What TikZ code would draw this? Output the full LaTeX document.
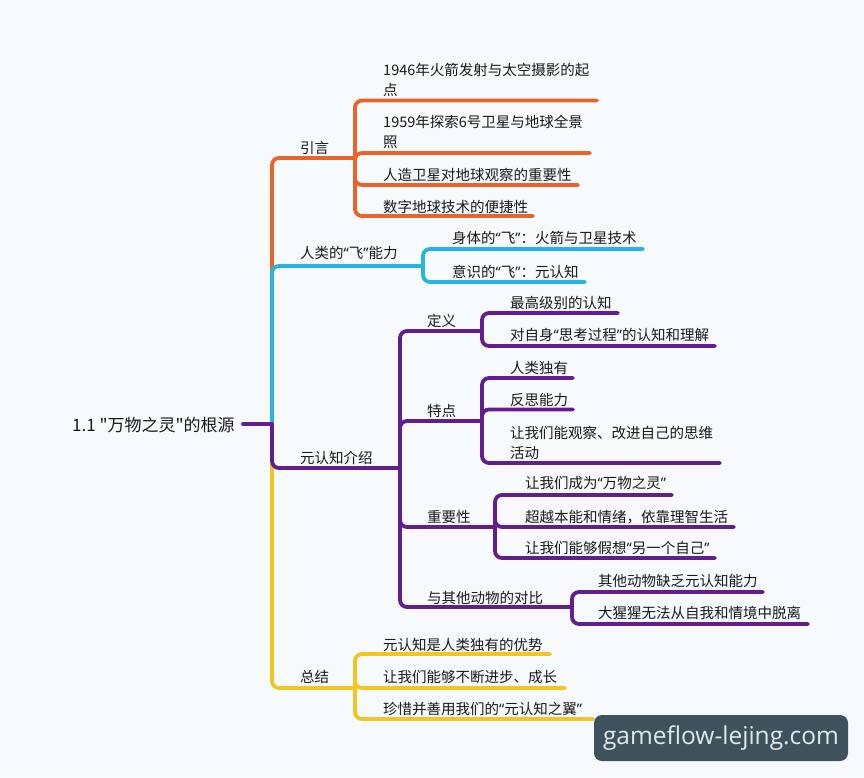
\documentclass[tikz,border=0pt]{standalone}
\usepackage{fontspec}
\setmainfont{Noto Sans CJK SC}[Ligatures=TeXOff]
\newfontfamily\wmfont{Open Sans}
\newfontfamily\qfont{Noto Sans}
\newcommand\qo{{\qfont “}}
\newcommand\qc{{\qfont ”}}
\definecolor{orangeC}{RGB}{233,100,40}
\definecolor{blueC}{RGB}{38,180,226}
\definecolor{purpleC}{RGB}{100,28,145}
\definecolor{yellowC}{RGB}{243,197,30}
\definecolor{textC}{RGB}{25,25,25}
\definecolor{bgC}{RGB}{246,250,252}
\definecolor{wmC}{RGB}{61,82,92}
\definecolor{wmtextC}{RGB}{228,232,234}
\begin{document}
\begin{tikzpicture}[x=1pt,y=-1pt,
  txt/.style={anchor=base west, inner sep=0pt, text=textC, font=\fontsize{14.5}{20}\selectfont, align=left},
  rootstyle/.style={anchor=base west, inner sep=0pt, text=textC, font=\fontsize{17}{20}\selectfont},
  ln/.style={line width=3.8pt, line cap=round, rounded corners=7pt},
  wm/.style={fill=wmC, text=wmtextC, rounded corners=8pt, minimum width=254pt, minimum height=46pt, inner sep=0pt, font=\wmfont\fontsize{24.5}{28}\selectfont}
]
\fill[bgC] (0,0) rectangle (864,777);
\useasboundingbox (0,0) rectangle (864,777);

% ---- text nodes (multi-line nodes: base = last line)
\node[rootstyle] (root) at (72,431) {1.1 "万物之灵"的根源};
\node[txt] (yy) at (300,153.5) {引言};
\node[txt] (yy1) at (383,95.5) {1946年火箭发射与太空摄影的起\\点};
\node[txt] (yy2) at (383,147.5) {1959年探索6号卫星与地球全景\\照};
\node[txt] (yy3) at (383,180.5) {人造卫星对地球观察的重要性};
\node[txt] (yy4) at (383,212.5) {数字地球技术的便捷性};
\node[txt] (fly) at (300,258.5) {人类的\qo 飞\qc 能力};
\node[txt] (fly1) at (452,243.5) {身体的\qo 飞\qc ：火箭与卫星技术};
\node[txt] (fly2) at (452,277.5) {意识的\qo 飞\qc ：元认知};
\node[txt] (mc) at (300,463.5) {元认知介绍};
\node[txt] (def) at (427,326.5) {定义};
\node[txt] (def1) at (510,308.5) {最高级别的认知};
\node[txt] (def2) at (510,340.5) {对自身\qo 思考过程\qc 的认知和理解};
\node[txt] (fea) at (427,416.5) {特点};
\node[txt] (fea1) at (510,373.5) {人类独有};
\node[txt] (fea2) at (510,405.5) {反思能力};
\node[txt] (fea3) at (510,458.5) {让我们能观察、改进自己的思维\\活动};
\node[txt] (imp) at (427,522.5) {重要性};
\node[txt] (imp1) at (525,488.5) {让我们成为\qo 万物之灵\qc};
\node[txt] (imp2) at (525,522.5) {超越本能和情绪，依靠理智生活};
\node[txt] (imp3) at (525,553.5) {让我们能够假想\qo 另一个自己\qc};
\node[txt] (cmp) at (427,603.5) {与其他动物的对比};
\node[txt] (cmp1) at (598,586.5) {其他动物缺乏元认知能力};
\node[txt] (cmp2) at (598,618.5) {大猩猩无法从自我和情境中脱离};
\node[txt] (sum) at (300,682.5) {总结};
\node[txt] (sum1) at (383,650.5) {元认知是人类独有的优势};
\node[txt] (sum2) at (383,682.5) {让我们能够不断进步、成长};
\node[txt] (sum3) at (383,714.5) {珍惜并善用我们的\qo 元认知之翼\qc};

% ---- junction / end coordinates
\coordinate (rootend) at (243,424);
\coordinate (hub) at (272,424);
\coordinate (jyy) at (355,158);
\coordinate (eyy1) at (597,100.5);
\coordinate (eyy2) at (590,153);
\coordinate (eyy3) at (578,185);
\coordinate (eyy4) at (533,216);
\coordinate (jfly) at (423,266);
\coordinate (efly1) at (643,249);
\coordinate (efly2) at (585,282);
\coordinate (jmc) at (400,468);
\coordinate (jdef) at (482,331);
\coordinate (edef1) at (618,313);
\coordinate (edef2) at (715,346);
\coordinate (jfea) at (482,421);
\coordinate (efea1) at (573,378);
\coordinate (efea2) at (573,409.5);
\coordinate (efea3) at (720,463);
\coordinate (jimp) at (495,527);
\coordinate (eimp1) at (672,495);
\coordinate (eimp2) at (734,527);
\coordinate (eimp3) at (715,558);
\coordinate (jcmp) at (572,607);
\coordinate (ecmp1) at (763,592);
\coordinate (ecmp2) at (808,624);
\coordinate (jsum) at (355,688);
\coordinate (esum1) at (550,654);
\coordinate (esum2) at (565,688);
\coordinate (esum3) at (593,719);

% ---- orange branch
\draw[ln,orangeC] (hub) |- (jyy);
\foreach \e in {eyy1,eyy2,eyy3,eyy4} \draw[ln,orangeC] (jyy) |- (\e);
% ---- blue branch
\draw[ln,blueC] (hub) |- (jfly);
\foreach \e in {efly1,efly2} \draw[ln,blueC] (jfly) |- (\e);
% ---- yellow branch
\draw[ln,yellowC] (hub) |- (jsum);
\foreach \e in {esum1,esum2,esum3} \draw[ln,yellowC] (jsum) |- (\e);
% ---- purple branch
\draw[ln,purpleC] (hub) |- (jmc);
\foreach \j in {jdef,jfea,jimp,jcmp} \draw[ln,purpleC] (jmc) |- (\j);
\foreach \e in {edef1,edef2} \draw[ln,purpleC] (jdef) |- (\e);
\foreach \e in {efea1,efea2,efea3} \draw[ln,purpleC] (jfea) |- (\e);
\foreach \e in {eimp1,eimp2,eimp3} \draw[ln,purpleC] (jimp) |- (\e);
\foreach \e in {ecmp1,ecmp2} \draw[ln,purpleC] (jcmp) |- (\e);
% ---- root line
\draw[ln,purpleC] (rootend) -- (hub);

% ---- watermark
\node[wm] (wm) at (721,738) {gameflow-lejing.com};
\end{tikzpicture}
\end{document}
